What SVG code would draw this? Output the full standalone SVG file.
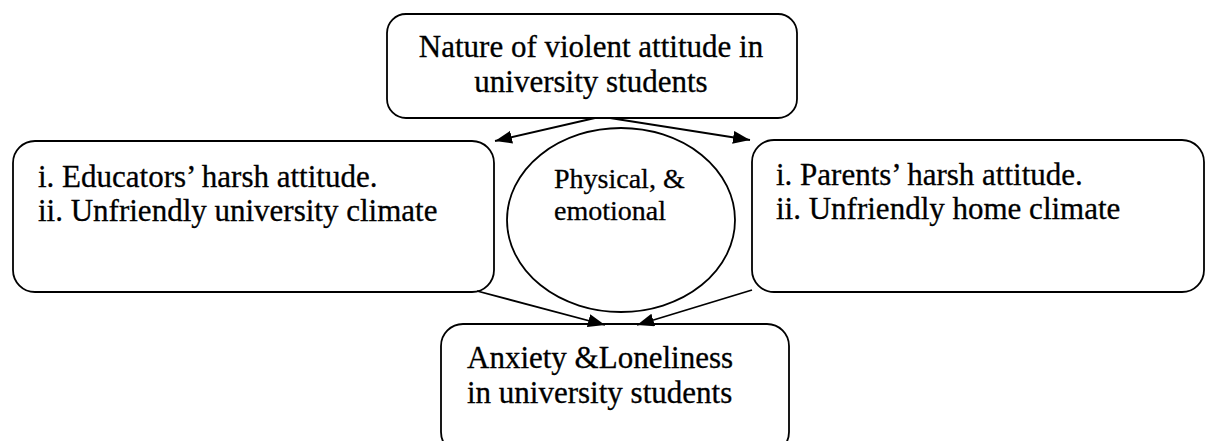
<svg xmlns="http://www.w3.org/2000/svg" width="1205" height="441" viewBox="0 0 1205 441">
<style>
.box{fill:#fff;stroke:#000;stroke-width:1.8}
.t{font-family:"Liberation Serif","Times New Roman",serif;font-size:31px;fill:#000;stroke:#000;stroke-width:0.3}
.s{font-family:"Liberation Serif","Times New Roman",serif;font-size:28px;fill:#000;stroke:#000;stroke-width:0.3}
.c{stroke:#000;stroke-width:1.8;fill:none;marker-end:url(#ah)}
</style>
<defs>
<marker id="ah" markerUnits="userSpaceOnUse" markerWidth="18" markerHeight="14" refX="17" refY="6.5" orient="auto">
<path d="M0,0 L17,6.5 L0,13 z" fill="#000"/>
</marker>
</defs>
<g id="node-top">
<rect class="box" x="387" y="14" width="410" height="104" rx="19" ry="19"/>
<text class="t" x="591" y="57" text-anchor="middle">Nature of violent attitude in</text>
<text class="t" x="591" y="92" text-anchor="middle">university students</text>
</g>
<g id="node-left">
<rect class="box" x="13" y="141" width="481" height="151" rx="22" ry="22"/>
<text class="t" x="38" y="187">i. Educators’ harsh attitude.</text>
<text class="t" x="38" y="221">ii. Unfriendly university climate</text>
</g>
<g id="node-right">
<rect class="box" x="752" y="140" width="452" height="152" rx="22" ry="22"/>
<text class="t" x="776" y="185">i. Parents’ harsh attitude.</text>
<text class="t" x="776" y="219">ii. Unfriendly home climate</text>
</g>
<g id="node-circle">
<ellipse class="box" cx="621" cy="220" rx="114" ry="92"/>
<text class="s" x="554" y="188">Physical, &amp;</text>
<text class="s" x="554" y="220">emotional</text>
</g>
<g id="node-bottom">
<rect class="box" x="441" y="324" width="348" height="130" rx="22" ry="22"/>
<text class="t" x="467" y="368">Anxiety &amp;Loneliness</text>
<text class="t" x="467" y="403">in university students</text>
</g>
<g id="connectors">
<line class="c" x1="595" y1="118" x2="495" y2="141"/>
<line class="c" x1="610" y1="118" x2="750" y2="140"/>
<line class="c" x1="477" y1="291" x2="605" y2="325"/>
<line class="c" x1="752" y1="290" x2="637" y2="325"/>
</g>
</svg>
